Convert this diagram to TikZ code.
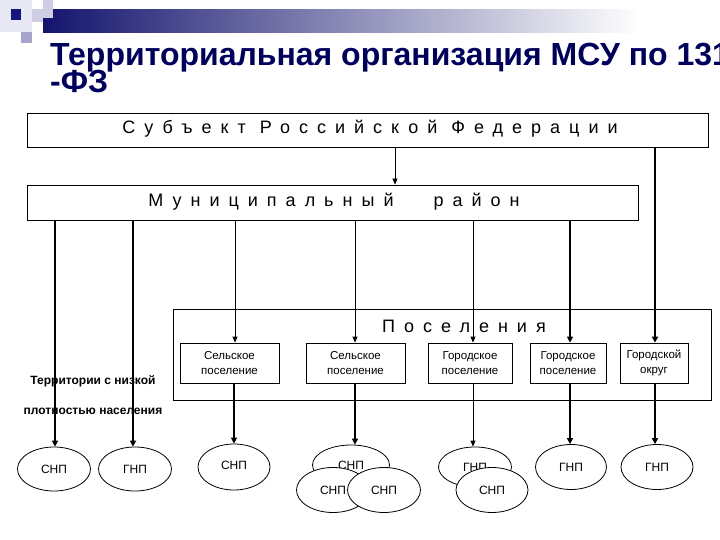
\documentclass[tikz,border=0pt]{standalone}
\usepackage{fontspec}
\setmainfont{Liberation Sans}
\newfontfamily\spacedfont[LetterSpace=50]{Liberation Sans}
\usetikzlibrary{arrows.meta,shapes.geometric}
\definecolor{titlenavy}{RGB}{0,0,96}
\definecolor{barnavy}{RGB}{20,20,110}
\definecolor{sqdark}{RGB}{20,20,130}
\definecolor{sqgray}{RGB}{165,165,205}
\definecolor{sqlight}{RGB}{205,205,228}
\definecolor{sqfaint}{RGB}{232,232,244}
\tikzset{
  bigbox/.style={draw, line width=0.8pt, fill=white, inner sep=0pt, minimum height=34pt},
  smallbox/.style={draw, line width=0.8pt, fill=white, inner sep=0pt, minimum height=40pt, align=center, font=\fontsize{11.5}{15}\selectfont},
  oval/.style={draw, ellipse, line width=0.8pt, fill=white, inner sep=0pt, minimum width=73pt, minimum height=44pt, font=\fontsize{12}{14}\selectfont},
  thin/.style={line width=0.8pt, -{Triangle[length=6pt,width=5pt]}},
  thick/.style={line width=2.3pt, -{Triangle[length=6pt,width=6pt]}},
  lowtext/.style={font=\fontsize{12}{14}\selectfont\bfseries},
  spaced/.style={font=\fontsize{18}{20}\spacedfont}
}
\begin{document}
\begin{tikzpicture}[x=1pt,y=-1pt]
\useasboundingbox (0,0) rectangle (720,540);
\clip (0,0) rectangle (720,540);
\fill[white] (0,0) rectangle (720,540);
% decoration
\fill[sqfaint] (0,0) rectangle (32,32);
\fill[sqlight] (32,9) rectangle (53,22);
\shade[left color=barnavy, right color=white] (43,10) rectangle (640,33);
\fill[sqlight] (43,0) rectangle (53,18);
\fill[sqgray] (21,32) rectangle (32,43);
\fill[sqdark] (11,9) rectangle (21,20);
% title
\node[anchor=base west, inner sep=0pt, text=titlenavy, font=\fontsize{32}{26}\selectfont\bfseries] (title1) at (50,66) {Территориальная организация МСУ по 131};
\node[anchor=base west, inner sep=0pt, text=titlenavy, font=\fontsize{32}{26}\selectfont\bfseries] (title2) at (50,93) {-ФЗ};
% main boxes
\node[bigbox, minimum width=681pt, minimum height=34pt] (subj) at (367.5,130) {};
\node[spaced, anchor=center] (subjt) at (370,129) {Субъект Российской Федерации};
\node[bigbox, minimum width=611pt, minimum height=35pt] (mun) at (332.5,202.5) {};
\node[spaced] (munt) at (334,202) {Муниципальный\hspace{40pt}район};
\node[draw, line width=0.8pt, inner sep=0pt, minimum width=538pt, minimum height=91pt] (pos) at (442,354.5) {};
\node[spaced] (post) at (464,326) {Поселения};
% inner boxes
\node[smallbox, minimum width=99pt] (b1) at (229.5,363) {Сельское\\поселение};
\node[smallbox, minimum width=99pt] (b2) at (355.5,363) {Сельское\\поселение};
\node[smallbox, minimum width=84pt] (b3) at (470,363) {Городское\\поселение};
\node[smallbox, minimum width=76pt] (b4) at (568,363) {Городское\\поселение};
\node[smallbox, minimum width=68pt] (b5) at (654,363) {Городской\\округ};
% low density text
\node[lowtext] (low1) at (93,381) {Территории с низкой};
\node[lowtext] (low2) at (93,411) {плотностью населения};
% ellipses
\node[oval] (e1) at (54,469) {СНП};
\node[oval] (e2) at (135,469) {ГНП};
\node[oval, minimum width=72pt, minimum height=46pt] (e3) at (234,467) {\raisebox{4pt}{СНП}};
\node[oval, minimum width=77pt, minimum height=40pt] (e4) at (351,465) {СНП};
\node[oval, minimum width=73pt, minimum height=45pt] (e5) at (333,490) {СНП};
\node[oval, minimum width=73pt, minimum height=45pt] (e6) at (384,490) {СНП};
\node[oval, minimum width=73pt, minimum height=40pt] (e7) at (475,467) {ГНП};
\node[oval, minimum width=72pt, minimum height=45pt] (e8) at (492,490) {СНП};
\node[oval, minimum width=71pt, minimum height=45pt] (e9) at (571,467) {ГНП};
\node[oval, minimum width=72pt, minimum height=45pt] (e10) at (657,467) {ГНП};
% connectors
\draw[thin] (subj.south -| 395,0) -- (mun.north -| 395,0);
\draw[thick] (subj.south -| 655,0) -- (b5.north -| 655,0);
\draw[thick] (mun.south -| 55,0) -- (e1.north -| 55,0);
\draw[thick] (mun.south -| 133,0) -- (e2.north -| 133,0);
\draw[thin] (mun.south -| 235,0) -- (b1.north -| 235,0);
\draw[thin] (mun.south -| 355,0) -- (b2.north -| 355,0);
\draw[thin] (mun.south -| 473,0) -- (b3.north -| 473,0);
\draw[thick] (mun.south -| 570,0) -- (b4.north -| 570,0);
\draw[thick] (b1.south -| 234,0) -- (e3.north -| 234,0);
\draw[thick] (b2.south -| 355,0) -- (e4.north -| 355,0);
\draw[thin] (b3.south -| 473,0) -- (e7.north -| 473,0);
\draw[thick] (b4.south -| 570,0) -- (e9.north -| 570,0);
\draw[thick] (b5.south -| 655,0) -- (e10.north -| 655,0);
\end{tikzpicture}
\end{document}
